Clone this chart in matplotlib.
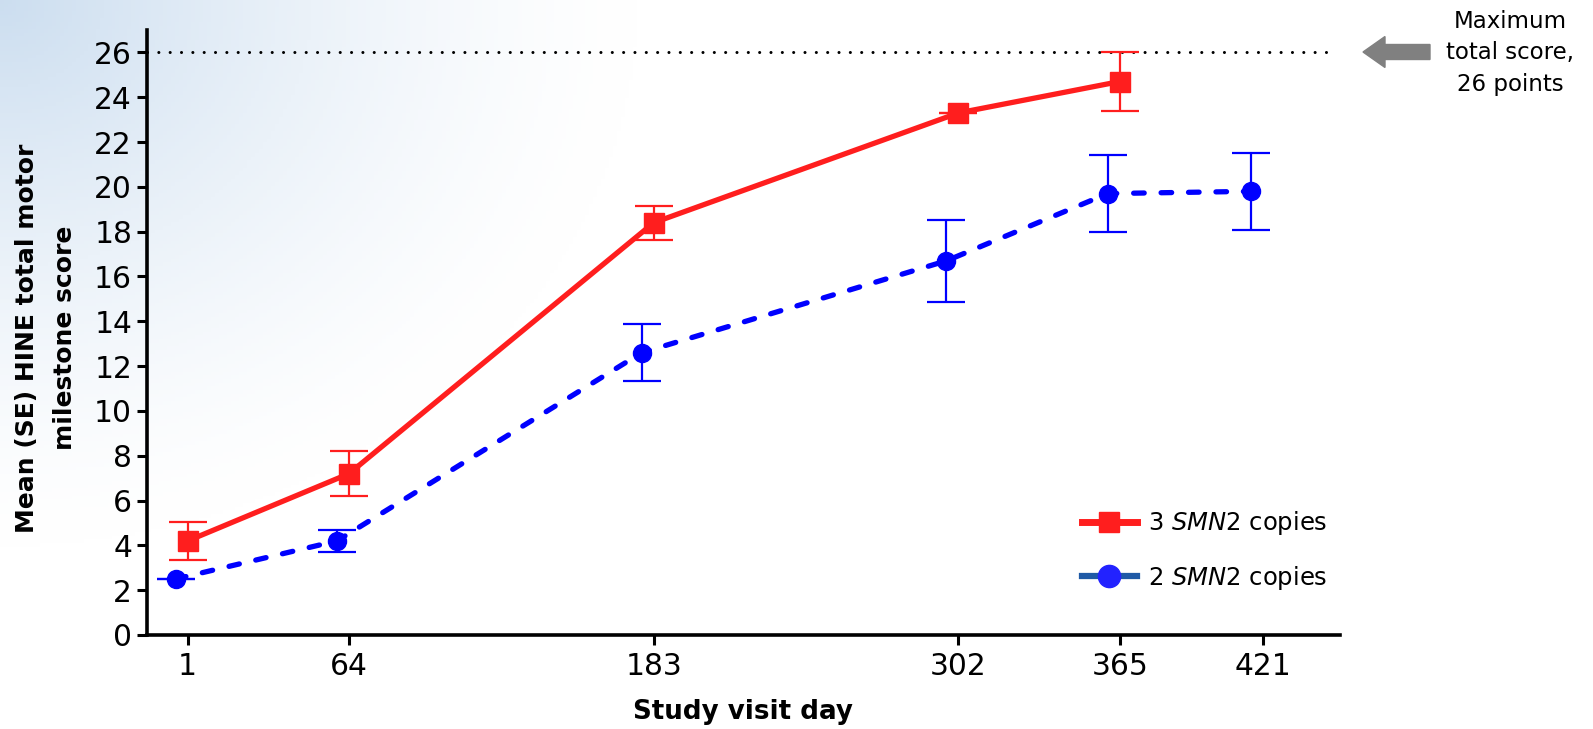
import numpy as np
import matplotlib
matplotlib.use('Agg')
import matplotlib.pyplot as plt
from matplotlib.lines import Line2D
from matplotlib.patches import FancyArrow

plt.rcParams['font.family'] = ['DejaVu Sans']
plt.rcParams['mathtext.fontset'] = 'dejavusans'

# data
days_3copies = [1, 64, 183, 302, 365]
mean_3copies = [4.2, 7.2, 18.4, 23.3, 24.7]
se_3copies = [0.85, 1.0, 0.75, 0.0, 1.3]

days_2copies = [1, 64, 183, 302, 365, 421]
mean_2copies = [2.5, 4.2, 12.6, 16.7, 19.7, 19.8]
se_2copies = [0.0, 0.5, 1.27, 1.83, 1.7, 1.73]

xticks = [1, 64, 183, 302, 365, 421]
yticks = list(range(0, 27, 2))
max_score = 26

red = '#ff1e1e'
blue = '#0000ff'
W, H = 1593, 729

fig = plt.figure(figsize=(W / 100, H / 100), dpi=100)

# light blue wash in the top-left corner
bg = fig.add_axes([0, 0, 1, 1], zorder=-5)
gx, gy = np.meshgrid(np.linspace(0, 1, 400), np.linspace(0, 1, 200))
t = np.clip(1 - np.sqrt((gx / 0.40) ** 2 + (gy / 0.75) ** 2), 0, 1) ** 1.4
c0 = np.array([0.80, 0.87, 0.94])
img = 1 - t[..., None] * (1 - c0)
bg.imshow(img, extent=[0, 1, 0, 1], aspect='auto', origin='upper')
bg.axis('off')

ax = fig.add_axes([146.7 / W, 1 - 635 / H, (1340 - 146.7) / W, (635 - 30) / H])
ax.patch.set_alpha(0)

# blue series is nudged left a little so the bars do not overlap
dodge = -4.7
ax.errorbar(np.array(days_2copies) + dodge, mean_2copies, yerr=se_2copies,
            color=blue, lw=3.8, ls=(0, (2.0, 3.2)), dash_capstyle='round',
            marker='o', ms=13, mec=blue, ecolor=blue, elinewidth=1.6,
            capsize=14, capthick=1.6, zorder=3)
ax.errorbar(days_3copies, mean_3copies, yerr=se_3copies,
            color=red, lw=3.8, marker='s', ms=14, mec=red,
            ecolor=red, elinewidth=1.6, capsize=14, capthick=1.6, zorder=4)

ax.hlines(max_score, -15, 447, colors='black', lw=2.2,
          linestyles=(0, (0.01, 3.7)), capstyle='round', clip_on=False)

ax.set_xlim(-15, 451)
ax.set_ylim(0, 27)
ax.set_xticks(xticks)
ax.set_yticks(yticks)
ax.tick_params(axis='both', width=2.2, length=7, labelsize=21.4)
ax.tick_params(axis='x', pad=5.5)
ax.tick_params(axis='y', pad=3.5)
for s in ['top', 'right']:
    ax.spines[s].set_visible(False)
for s in ['left', 'bottom']:
    ax.spines[s].set_linewidth(2.6)

ax.set_xlabel('Study visit day', fontsize=18.8, fontweight='bold', labelpad=13)
fig.text(46 / W, 1 - 338 / H, 'Mean (SE) HINE total motor\nmilestone score',
         rotation=90, ha='center', va='center', fontsize=18,
         fontweight='bold', linespacing=1.7)

handles = [
    Line2D([], [], color=red, lw=5, marker='s', ms=15, mec=red),
    Line2D([], [], color='#1f5aa6', lw=4.5, marker='o', ms=16,
           mfc='#2222ff', mec='#2222ff'),
]
labels = ['3 $\\mathit{SMN2}$ copies', '2 $\\mathit{SMN2}$ copies']
fig.legend(handles, labels, loc='center left',
           bbox_to_anchor=(1082 / W, 1 - 550.5 / H), frameon=False,
           fontsize=17.5, handlelength=2.26, handletextpad=0.45,
           labelspacing=1.1, borderpad=0, borderaxespad=0)

fig.patches.append(FancyArrow(1430 / W, 1 - 52 / H, -67 / W, 0,
                              width=15 / H, head_width=31 / H,
                              head_length=22 / W, length_includes_head=True,
                              color='#808080', transform=fig.transFigure,
                              figure=fig))
fig.text(1510 / W, 1 - 53 / H, 'Maximum\ntotal score,\n26 points',
         ha='center', va='center', fontsize=16.5, linespacing=1.47)

fig.savefig('out.png', dpi=100)
